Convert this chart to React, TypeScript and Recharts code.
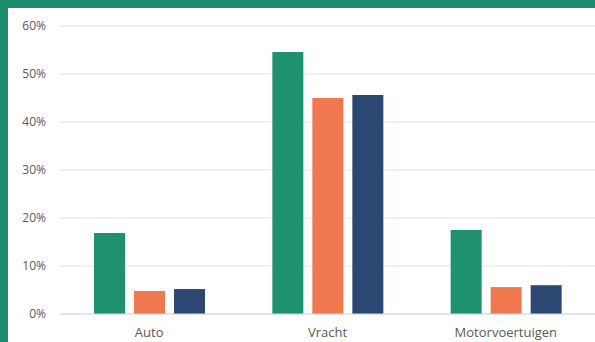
import { BarChart, Bar, XAxis, YAxis, CartesianGrid } from "recharts";

// vehicle categories and the share per series (percent)
const categories = ["Auto", "Vracht", "Motorvoertuigen"];
const seriesA = [16.9, 54.6, 17.5];
const seriesB = [4.8, 45.0, 5.6];
const seriesC = [5.2, 45.6, 6.0];
const yTicks = [0, 10, 20, 30, 40, 50, 60];

const data = categories.map((name, i) => ({
  name,
  a: seriesA[i],
  b: seriesB[i],
  c: seriesC[i],
}));

const yTickStyle = { fill: "#595959", fontSize: 12, fontFamily: "Open Sans" };
const xTickStyle = { fill: "#595959", fontSize: 13, fontFamily: "Open Sans" };

export default function App() {
  return (
    <div
      style={{
        position: "absolute",
        left: 0,
        top: 0,
        width: 587,
        height: 334,
        background: "#ffffff",
        borderLeft: "8px solid #1b8c6b",
        borderTop: "8px solid #1b8c6b",
      }}
    >
      <BarChart
        width={587}
        height={334}
        data={data}
        margin={{ top: 18, right: 0, bottom: 0, left: 0 }}
        barSize={31}
        barGap={9}
      >
        <CartesianGrid vertical={false} stroke="#e2e2e2" />
        <XAxis
          dataKey="name"
          height={28}
          tickLine={false}
          axisLine={{ stroke: "#d9d9d9" }}
          tickMargin={8}
          tick={xTickStyle}
        />
        <YAxis
          width={52}
          domain={[0, 60]}
          ticks={yTicks}
          tickFormatter={(v: number) => `${v}%`}
          tickLine={false}
          axisLine={false}
          tickMargin={8}
          tick={yTickStyle}
        />
        <Bar dataKey="a" fill="#1e9170" isAnimationActive={false} />
        <Bar dataKey="b" fill="#f0784f" isAnimationActive={false} />
        <Bar dataKey="c" fill="#2c4872" isAnimationActive={false} />
      </BarChart>
    </div>
  );
}
